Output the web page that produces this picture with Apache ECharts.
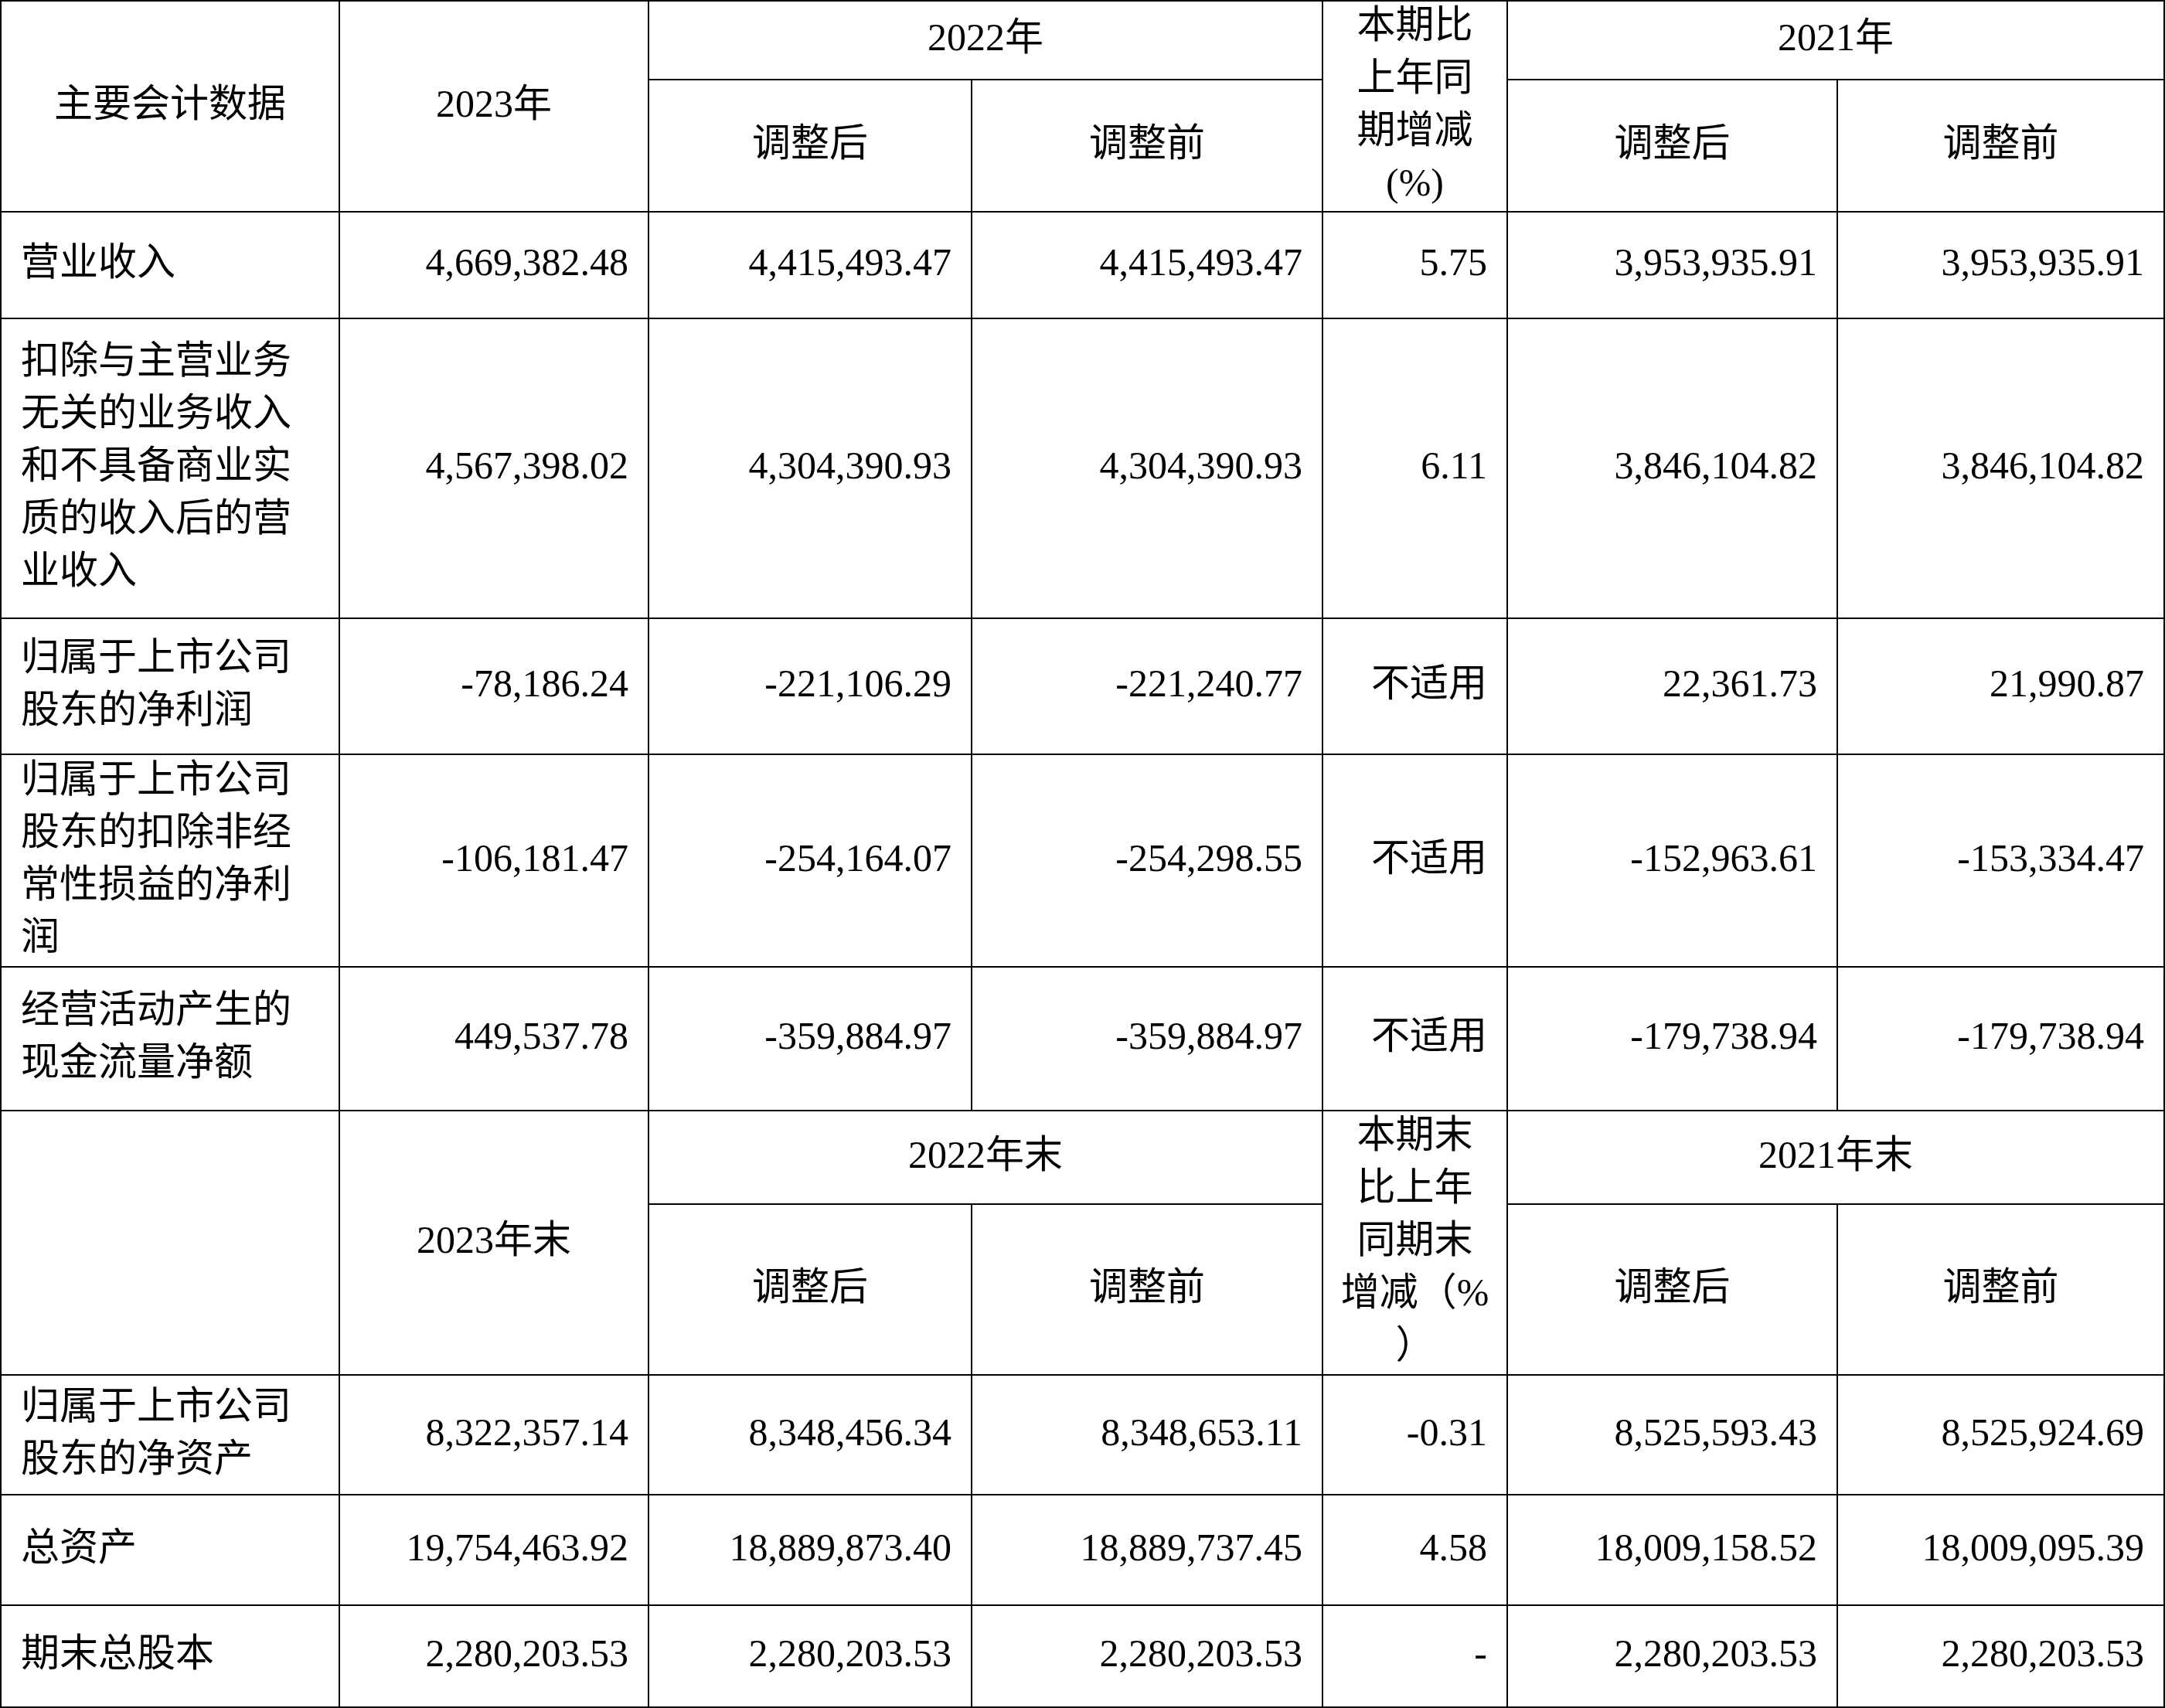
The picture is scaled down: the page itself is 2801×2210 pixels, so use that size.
<!DOCTYPE html>
<html>
<head>
<meta charset="utf-8">
<script src="https://cdn.jsdelivr.net/npm/echarts@6/dist/echarts.min.js"></script>
<style>html,body{margin:0;padding:0;background:#fff}#main{width:2801px;height:2210px}</style>
</head>
<body>
<div id="main"></div>
<script>
// ---- data ----
const headerTop = ['主要会计数据', '2023年', '2022年', '调整后', '调整前', '本期比\n上年同\n期增减\n(%)', '2021年'];
const headerMid = ['', '2023年末', '2022年末', '调整后', '调整前', '本期末\n比上年\n同期末\n增减（%\n）', '2021年末'];

const flowLabels = ['营业收入', '扣除与主营业务\n无关的业务收入\n和不具备商业实\n质的收入后的营\n业收入', '归属于上市公司\n股东的净利润', '归属于上市公司\n股东的扣除非经\n常性损益的净利\n润', '经营活动产生的\n现金流量净额'];
const flow2023 = [4669382.48, 4567398.02, -78186.24, -106181.47, 449537.78];
const flow2022Adj = [4415493.47, 4304390.93, -221106.29, -254164.07, -359884.97];
const flow2022Pre = [4415493.47, 4304390.93, -221240.77, -254298.55, -359884.97];
const flowChange = ['5.75', '6.11', '不适用', '不适用', '不适用'];
const flow2021Adj = [3953935.91, 3846104.82, 22361.73, -152963.61, -179738.94];
const flow2021Pre = [3953935.91, 3846104.82, 21990.87, -153334.47, -179738.94];

const stockLabels = ['归属于上市公司\n股东的净资产', '总资产', '期末总股本'];
const stock2023 = [8322357.14, 19754463.92, 2280203.53];
const stock2022Adj = [8348456.34, 18889873.40, 2280203.53];
const stock2022Pre = [8348653.11, 18889737.45, 2280203.53];
const stockChange = ['-0.31', '4.58', '-'];
const stock2021Adj = [8525593.43, 18009158.52, 2280203.53];
const stock2021Pre = [8525924.69, 18009095.39, 2280203.53];

// ---- layout ----
const colIds = ['c0', 'c1', 'c2', 'c3', 'c4', 'c5', 'c6'];
const colWidths = [438, 400, 418, 454, 239, 427, 425];
const rowIds = ['r0', 'r1', 'r2', 'r3', 'r4', 'r5', 'r6', 'r7', 'r8', 'r9', 'r10', 'r11'];
const rowHeights = [102, 171, 138, 388, 176, 275, 186, 121, 221, 155, 143, 134];

const FONT = "'Liberation Serif', 'Noto Sans CJK SC', serif";
const fmt = v => (typeof v === 'number') ? v.toLocaleString('en-US', {minimumFractionDigits: 2, maximumFractionDigits: 2}) : v;
const rightLabel = { position: 'insideRight', align: 'right', padding: [0, 26, 0, 0] };
const leftLabel = { position: 'insideLeft', align: 'left', padding: [0, 0, 0, 26] };
const tallLabel = { lineHeight: 68, overflow: 'none', lineOverflow: 'none' };

const cells = [];
function cell(c, r, value, label) {
  const o = { coord: [c, r], value: value };
  if (Array.isArray(c) || Array.isArray(r)) o.mergeCells = true;
  if (label) o.label = label;
  cells.push(o);
}
function headerBlock(h, r0, r1) {
  cell('c0', [r0, r1], h[0]);
  cell('c1', [r0, r1], h[1]);
  cell(['c2', 'c3'], r0, h[2]);
  cell('c2', r1, h[3]);
  cell('c3', r1, h[4]);
  cell('c4', [r0, r1], h[5], tallLabel);
  cell(['c5', 'c6'], r0, h[6]);
  cell('c5', r1, h[3]);
  cell('c6', r1, h[4]);
}
function dataBlock(labels, cols, startRow) {
  labels.forEach((lab, i) => {
    const r = rowIds[startRow + i];
    cell('c0', r, lab, leftLabel);
    cols.forEach((arr, j) => cell(colIds[j + 1], r, fmt(arr[i]), rightLabel));
  });
}
headerBlock(headerTop, 'r0', 'r1');
dataBlock(flowLabels, [flow2023, flow2022Adj, flow2022Pre, flowChange, flow2021Adj, flow2021Pre], 2);
headerBlock(headerMid, 'r7', 'r8');
dataBlock(stockLabels, [stock2023, stock2022Adj, stock2022Pre, stockChange, stock2021Adj, stock2021Pre], 9);

const chart = echarts.init(document.getElementById('main'));
chart.setOption({
  backgroundColor: '#fff',
  matrix: {
    left: 1, top: 1, right: 1, bottom: 1,
    x: { show: false, data: colIds.map((id, i) => ({ value: id, size: colWidths[i] })) },
    y: { show: false, data: rowIds.map((id, i) => ({ value: id, size: rowHeights[i] })) },
    body: {
      data: cells,
      itemStyle: { color: '#fff', borderColor: '#000', borderWidth: 2 },
      label: { show: true, fontSize: 50, fontFamily: FONT, color: '#000', lineHeight: 68, overflow: 'none', lineOverflow: 'none' }
    },
    backgroundStyle: { color: '#fff', borderColor: '#000', borderWidth: 2 }
  }
});
</script>
</body>
</html>
